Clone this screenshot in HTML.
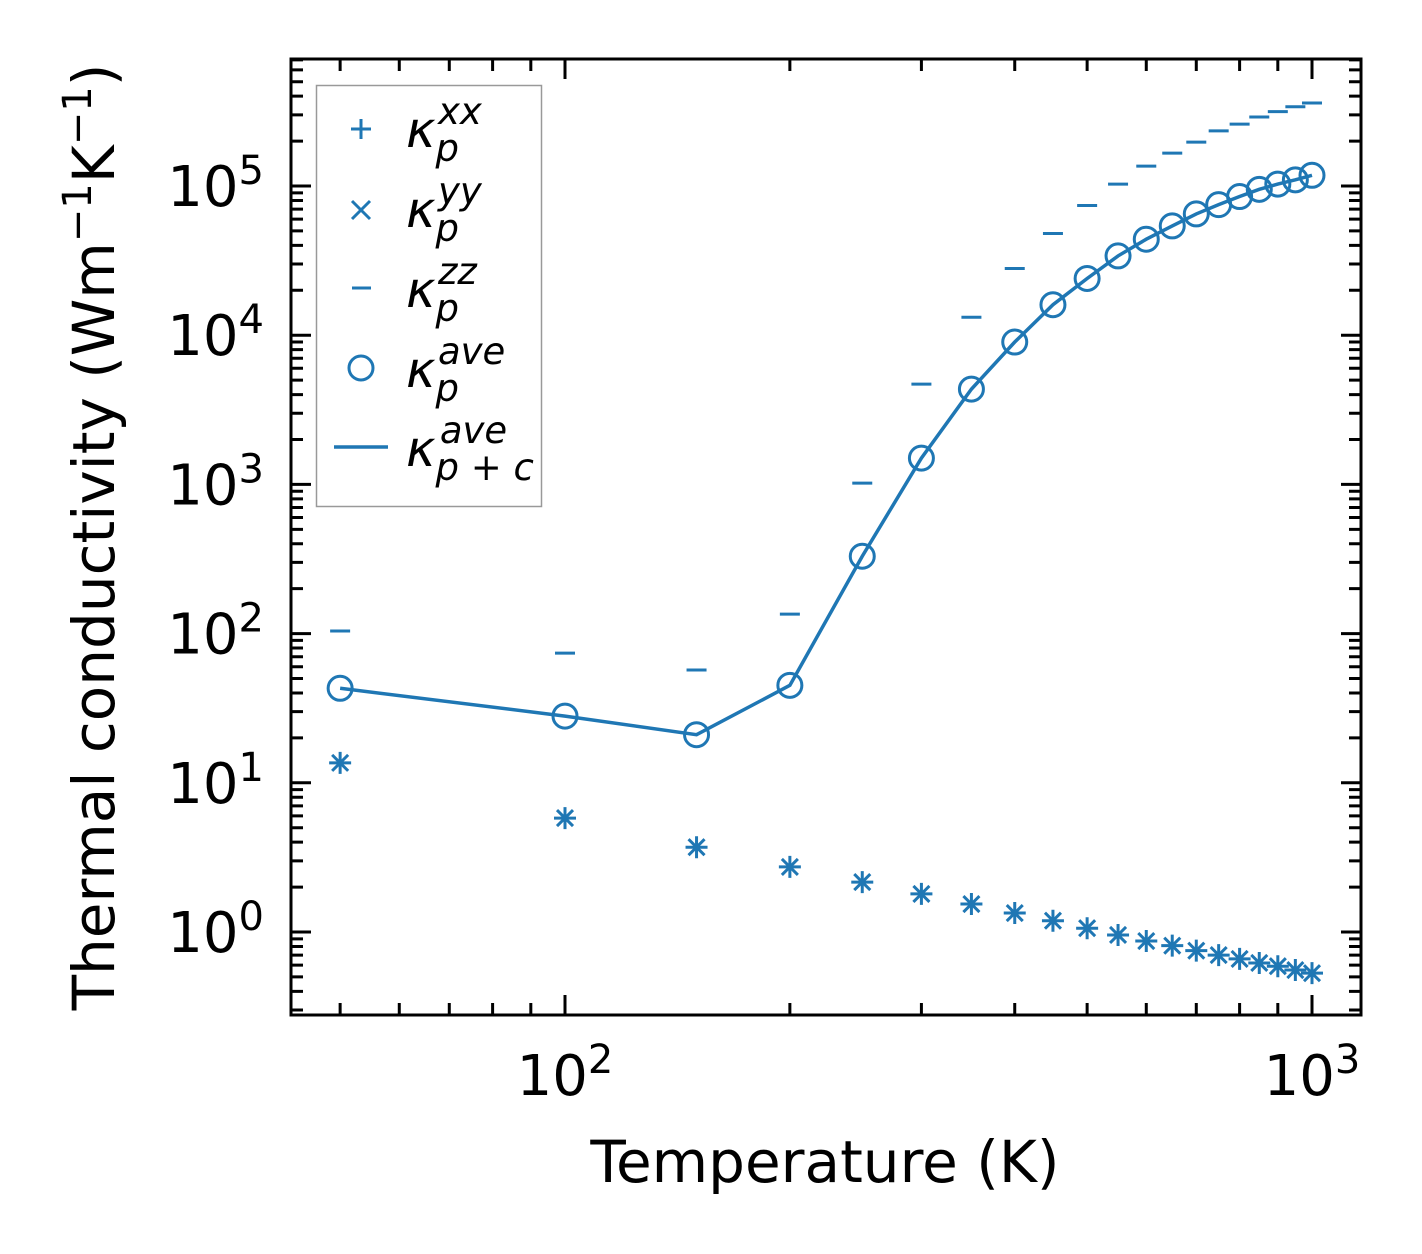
<!DOCTYPE html>
<html><head><meta charset="utf-8"><style>
html,body{margin:0;padding:0;background:#fff;}
svg{display:block;font-family:"DejaVu Sans","Liberation Sans",sans-serif;}
</style></head><body>
<svg id="chart" width="1422" height="1254" viewBox="0 0 1422 1254" xmlns="http://www.w3.org/2000/svg">
<rect width="1422" height="1254" fill="#fff"/>
<g id="marks"></g>
<g id="axes"></g>
<text x="825" y="1182" font-size="58" text-anchor="middle">Temperature (K)</text>
<text transform="translate(114,537) rotate(-90)" font-size="58" text-anchor="middle">Thermal conductivity (Wm<tspan dy="-23" font-size="40">−1</tspan><tspan dy="23">K</tspan><tspan dy="-23" font-size="40">−1</tspan><tspan dy="23">)</tspan></text>
<g>
<rect x="316.5" y="85.5" width="225" height="421" fill="#fff" stroke="#999" stroke-width="1.5"/>
<g><path d="M361 119v20M351 129h20" stroke="#1f77b4" stroke-width="3"/>
<text x="406" y="147" font-size="50" font-style="italic">κ<tspan dy="14" font-size="37">p</tspan><tspan dx="-21" dy="-37" font-size="37">xx</tspan></text></g>
<g><path d="M352 201l18 18M352 219l18-18" stroke="#1f77b4" stroke-width="3"/>
<text x="406" y="227" font-size="50" font-style="italic">κ<tspan dy="14" font-size="37">p</tspan><tspan dx="-21" dy="-37" font-size="37">yy</tspan></text></g>
<g><path d="M352 288h19" stroke="#1f77b4" stroke-width="3"/>
<text x="406" y="307" font-size="50" font-style="italic">κ<tspan dy="14" font-size="37">p</tspan><tspan dx="-21" dy="-37" font-size="37">zz</tspan></text></g>
<g><circle cx="361" cy="368" r="12" fill="none" stroke="#1f77b4" stroke-width="3"/>
<text x="406" y="387" font-size="50" font-style="italic">κ<tspan dy="14" font-size="37">p</tspan><tspan dx="-21" dy="-37" font-size="37">ave</tspan></text></g>
<g><path d="M334 447h54" stroke="#1f77b4" stroke-width="3.5"/>
<text x="406" y="466" font-size="50" font-style="italic">κ<tspan dy="14" font-size="37">p + c</tspan><tspan dx="-94" dy="-37" font-size="37">ave</tspan></text></g>
</g>
</svg>
<script>
const temps=[50,100,150,200,250,300,350,400,450,500,550,600,650,700,750,800,850,900,950,1000];
const kXX=[13.6,5.8,3.7,2.73,2.16,1.8,1.54,1.34,1.19,1.06,0.955,0.87,0.81,0.75,0.70,0.66,0.62,0.59,0.556,0.53];
const kYY=[13.6,5.8,3.7,2.73,2.16,1.8,1.54,1.34,1.19,1.06,0.955,0.87,0.81,0.75,0.70,0.66,0.62,0.59,0.556,0.53];
const kZZ=[104,74,57,135,1020,4700,13200,28000,48000,74000,103000,136000,166000,197000,234000,260000,290000,315000,340000,360000];
const kAve=[43,28,21,45,330,1500,4350,9000,16000,24000,34000,44000,54000,65000,75000,85000,95000,103000,110000,118000];
const kAvePC=[43,28,21,45,330,1500,4350,9000,16000,24000,34000,44000,54000,65000,75000,85000,95000,103000,110000,118000];
const xTickVals=[100,1000];
const xTickLabels=["2","3"];
const yTickVals=[1,10,100,1000,10000,100000];
const yTickLabels=["0","1","2","3","4","5"];

const L=291,R=1361,T=59,B=1015;
const xDec=747,x100=565,yDec=149.2,y1=932;
function sx(v){return x100+(Math.log10(v)-2)*xDec;}
function sy(v){return y1-Math.log10(v)*yDec;}
const NS="http://www.w3.org/2000/svg";
const C="#1f77b4";
function mk(tag,attrs,parent){const e=document.createElementNS(NS,tag);for(const k in attrs)e.setAttribute(k,attrs[k]);parent.appendChild(e);return e;}
const marks=document.getElementById('marks');
const axes=document.getElementById('axes');

const pl=mk('polyline',{points:temps.map((t,i)=>sx(t)+','+sy(kAvePC[i])).join(' '),fill:'none',stroke:C,'stroke-width':3.5},marks);


temps.forEach((t,i)=>{
  let x=sx(t),y=sy(kZZ[i]);
  const z=mk('path',{d:`M${x-10} ${y}h20`,stroke:C,'stroke-width':3},marks);
  
  
  y=sy(kXX[i]);
  const p=mk('path',{d:`M${x} ${y-11}v22M${x-11} ${y}h22`,stroke:C,'stroke-width':3},marks);
  
  
  y=sy(kYY[i]);
  const q=mk('path',{d:`M${x-8} ${y-8}l16 16M${x-8} ${y+8}l16 -16`,stroke:C,'stroke-width':3},marks);
  
  
  y=sy(kAve[i]);
  const c=mk('circle',{cx:x,cy:y,r:12,fill:'none',stroke:C,'stroke-width':3},marks);
  
  
});

const fr=mk('rect',{x:L,y:T,width:R-L,height:B-T,fill:'none',stroke:'#000','stroke-width':3},axes);


let d='';
for(let dec=10;dec<=1000;dec*=10){for(let m=1;m<10;m++){const v=dec*m;const x=sx(v);if(x<L||x>R)continue;const len=(m===1)?20:12;d+=`M${x} ${B}v${-len}M${x} ${T}v${len}`;}}
for(let dec=0.1;dec<=1e6;dec*=10){for(let m=1;m<10;m++){const v=dec*m;const y=sy(v);if(y<T||y>B)continue;const len=(m===1)?20:12;d+=`M${L} ${y}h${len}M${R} ${y}h${-len}`;}}
mk('path',{d:d,stroke:'#000','stroke-width':3},axes);
xTickVals.forEach((v,i)=>{
  const t=mk('text',{x:sx(v),y:1095,'font-size':56,'text-anchor':'middle'},axes);
  t.innerHTML=`10<tspan dy="-22" font-size="40">${xTickLabels[i]}</tspan>`;
  
  
});
yTickVals.forEach((v,i)=>{
  const t=mk('text',{x:264,y:sy(v)+20,'font-size':56,'text-anchor':'end'},axes);
  t.innerHTML=`10<tspan dy="-22" font-size="40">${yTickLabels[i]}</tspan>`;
  
  
});
</script>
</body></html>
